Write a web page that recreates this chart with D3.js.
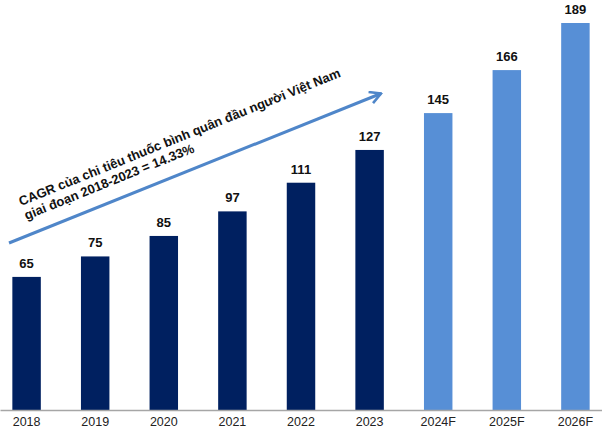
<!DOCTYPE html>
<html>
<head>
<meta charset="utf-8">
<script src="https://cdn.jsdelivr.net/npm/d3@7"></script>
<style>
  body { margin: 0; background: #fff; }
  svg { display: block; font-family: "Liberation Sans", Arial, sans-serif; }
</style>
</head>
<body>
<div id="container"></div>
<script>
const years = ["2018", "2019", "2020", "2021", "2022", "2023", "2024F", "2025F", "2026F"];
const values = [65, 75, 85, 97, 111, 127, 145, 166, 189];
const forecast = [false, false, false, false, false, false, true, true, true];
const noteLines = [
  "CAGR của chi tiêu thuốc bình quân đầu người Việt Nam",
  "giai đoạn 2018-2023 = 14.33%",
];

const width = 602;
const height = 437;
const baseY = 410;

const x = d3
  .scaleBand()
  .domain(years)
  .range([0, width])
  .paddingInner(0.585)
  .paddingOuter(0.18);

const y = d3.scaleLinear().domain([0, 189]).range([baseY, 23]);

const svg = d3
  .select("#container")
  .append("svg")
  .attr("width", width)
  .attr("height", height);

svg
  .selectAll("rect.bar")
  .data(years)
  .join("rect")
  .attr("class", "bar")
  .attr("x", (d) => x(d))
  .attr("y", (d, i) => y(values[i]))
  .attr("width", x.bandwidth())
  .attr("height", (d, i) => baseY - y(values[i]))
  .attr("fill", (d, i) => (forecast[i] ? "#578fd6" : "#002060"));

svg
  .selectAll("text.val")
  .data(years)
  .join("text")
  .attr("class", "val")
  .attr("x", (d) => x(d) + x.bandwidth() / 2)
  .attr("y", (d, i) => y(values[i]) - 9)
  .attr("text-anchor", "middle")
  .attr("font-size", 13)
  .attr("font-weight", "bold")
  .attr("fill", "#111")
  .text((d, i) => values[i]);

const axis = svg
  .append("g")
  .attr("transform", `translate(0,${baseY})`)
  .call(d3.axisBottom(x).tickSize(0).tickSizeOuter(0).tickPadding(7));
axis.select(".domain").attr("stroke", "#a6a6a6").attr("stroke-width", 1.5);
axis
  .selectAll("text")
  .attr("font-size", 12.5)
  .attr("font-family", "Liberation Sans, Arial, sans-serif")
  .attr("fill", "#222");

// CAGR arrow
svg
  .append("defs")
  .append("marker")
  .attr("id", "head")
  .attr("viewBox", "0 0 14 14")
  .attr("refX", 12.5)
  .attr("refY", 7)
  .attr("markerWidth", 14)
  .attr("markerHeight", 14)
  .attr("markerUnits", "userSpaceOnUse")
  .attr("orient", "auto")
  .append("path")
  .attr("d", "M1.5,1 L12.5,7 L1.5,13")
  .attr("fill", "none")
  .attr("stroke", "#4f86c9")
  .attr("stroke-width", 2.6)
  .attr("stroke-linejoin", "miter");

svg
  .append("line")
  .attr("x1", 9)
  .attr("y1", 243)
  .attr("x2", 381)
  .attr("y2", 93.5)
  .attr("stroke", "#4f86c9")
  .attr("stroke-width", 3)
  .attr("marker-end", "url(#head)");

const note = svg
  .append("g")
  .attr("transform", "translate(21,206) rotate(-22)");
note
  .selectAll("text")
  .data(noteLines)
  .join("text")
  .attr("x", 0)
  .attr("y", (d, i) => i * 15)
  .attr("font-size", 13)
  .attr("font-weight", "bold")
  .attr("fill", "#111")
  .text((d) => d);
</script>
</body>
</html>
